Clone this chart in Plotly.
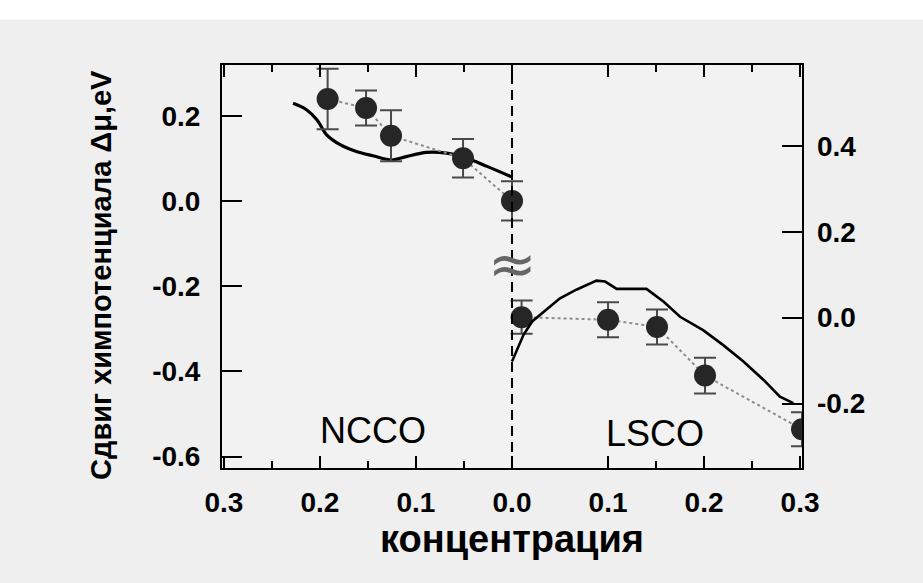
import plotly.graph_objects as go

# ---- data ----
# NCCO points plotted at negative x (axis shows absolute concentration)
ncco_x = [-0.192, -0.152, -0.126, -0.051, 0.0]
ncco_y = [0.239, 0.218, 0.153, 0.100, 0.0]
ncco_err = [0.071, 0.041, 0.060, 0.045, 0.046]

lsco_x = [0.010, 0.100, 0.151, 0.201, 0.302]
lsco_y = [-0.273, -0.279, -0.296, -0.410, -0.536]
lsco_err = [0.039, 0.041, 0.041, 0.042, 0.040]

# theory curves
ncco_curve_x = [-0.228, -0.214, -0.203, -0.193, -0.179, -0.162, -0.145, -0.125,
                -0.110, -0.089, -0.068, -0.047, -0.026, 0.0]
ncco_curve_y = [0.229, 0.214, 0.190, 0.155, 0.132, 0.116, 0.106, 0.096,
                0.104, 0.114, 0.112, 0.100, 0.081, 0.056]

lsco_curve_x = [0.0, 0.005, 0.012, 0.021, 0.033, 0.050, 0.067, 0.088, 0.097,
                0.109, 0.140, 0.158, 0.175, 0.199, 0.220, 0.241, 0.262, 0.279, 0.293]
lsco_curve_y = [-0.102, -0.075, -0.040, -0.009, 0.014, 0.045, 0.065, 0.086, 0.084,
                0.067, 0.067, 0.037, 0.002, -0.029, -0.064, -0.102, -0.145, -0.184, -0.199]

x_tickvals = [-0.3, -0.2, -0.1, 0.0, 0.1, 0.2, 0.3]
x_ticktext = ["0.3", "0.2", "0.1", "0.0", "0.1", "0.2", "0.3"]
x_minor = [-0.25, -0.15, -0.05, 0.15, 0.25]

y_tickvals = [-0.6, -0.4, -0.2, 0.0, 0.2]
y_ticktext = ["-0.6", "-0.4", "-0.2", "0.0", "0.2"]
y2_tickvals = [-0.2, 0.0, 0.2, 0.4]
y2_ticktext = ["-0.2", "0.0", "0.2", "0.4"]

FONT = "Liberation Sans"
TICKFONT = dict(family=FONT, size=28, color="black", weight="bold")

fig = go.Figure()

fig.add_trace(go.Scatter(x=ncco_curve_x, y=ncco_curve_y, mode="lines",
                         line=dict(color="black", width=3.2, shape="spline"),
                         hoverinfo="skip"))
fig.add_trace(go.Scatter(x=lsco_curve_x, y=lsco_curve_y, mode="lines", yaxis="y2",
                         line=dict(color="black", width=2.6),
                         hoverinfo="skip"))

for xs, ys, es in [(ncco_x, ncco_y, ncco_err), (lsco_x, lsco_y, lsco_err)]:
    fig.add_trace(go.Scatter(
        x=xs, y=ys, mode="lines+markers",
        line=dict(color="#8c8c8c", width=2, dash="dot"),
        marker=dict(size=22, color="#262626", line=dict(width=0)),
        error_y=dict(type="data", array=es, visible=True, color="#4a4a4a",
                     thickness=2, width=11),
        hoverinfo="skip"))

fig.update_layout(
    width=923, height=583,
    margin=dict(l=222, r=121, t=65, b=115),
    paper_bgcolor="#efefef", plot_bgcolor="#f2f2f2",
    showlegend=False,
    xaxis=dict(range=[-0.302, 0.302], tickmode="array", tickvals=x_tickvals,
               ticktext=x_ticktext, ticks="inside", ticklen=12, tickwidth=2,
               tickcolor="black", showline=True, linecolor="black", linewidth=2,
               mirror="ticks", showgrid=False, zeroline=False,
               ticklabelstandoff=8, tickfont=TICKFONT,
               minor=dict(tickmode="array", tickvals=x_minor, ticks="inside",
                          ticklen=7, tickwidth=2, tickcolor="black", showgrid=False)),
    yaxis=dict(range=[-0.627, 0.319], tickmode="array", tickvals=y_tickvals,
               ticktext=y_ticktext, ticks="inside", ticklen=20, tickwidth=2,
               tickcolor="black", showline=True, linecolor="black", linewidth=2,
               mirror=True, showgrid=False, zeroline=False,
               ticklabelstandoff=14, tickfont=TICKFONT),
    yaxis2=dict(range=[-0.350, 0.588], overlaying="y", side="right",
                tickmode="array", tickvals=y2_tickvals, ticktext=y2_ticktext,
                ticks="inside", ticklen=20, tickwidth=2, tickcolor="black",
                showline=False, showgrid=False, zeroline=False,
                ticklabelstandoff=14, tickfont=TICKFONT),
    annotations=[
        dict(text="концентрация", xref="paper", yref="paper", x=0.5, y=-0.175,
             xanchor="center", yanchor="middle", showarrow=False,
             font=dict(family=FONT, size=38, color="black", weight="bold")),
        dict(text="Сдвиг химпотенциала Δμ,eV", xref="paper", yref="paper",
             x=-0.2086, y=0.479, textangle=-90, xanchor="center", yanchor="middle",
             showarrow=False,
             font=dict(family=FONT, size=29, color="black", weight="bold")),
        dict(text="NCCO", x=-0.145, y=-0.539, xref="x", yref="y", showarrow=False,
             xanchor="center", yanchor="middle",
             font=dict(family=FONT, size=36, color="black")),
        dict(text="LSCO", x=0.149, y=-0.547, xref="x", yref="y", showarrow=False,
             xanchor="center", yanchor="middle",
             font=dict(family=FONT, size=36, color="black")),
        dict(text="≈", x=0.0, y=0.506, xref="x", yref="paper", showarrow=False,
             xanchor="center", yanchor="middle",
             font=dict(family="DejaVu Sans", size=58, color="#666666")),
    ],
)

fig.add_shape(type="rect", xref="paper", yref="paper", x0=-0.4, x1=1.25,
              y0=1.112, y1=1.2, fillcolor="white", line=dict(width=0), layer="below")
fig.add_vline(x=0, line=dict(color="black", width=2, dash="10px,6px"))

fig.write_html("out.html")
